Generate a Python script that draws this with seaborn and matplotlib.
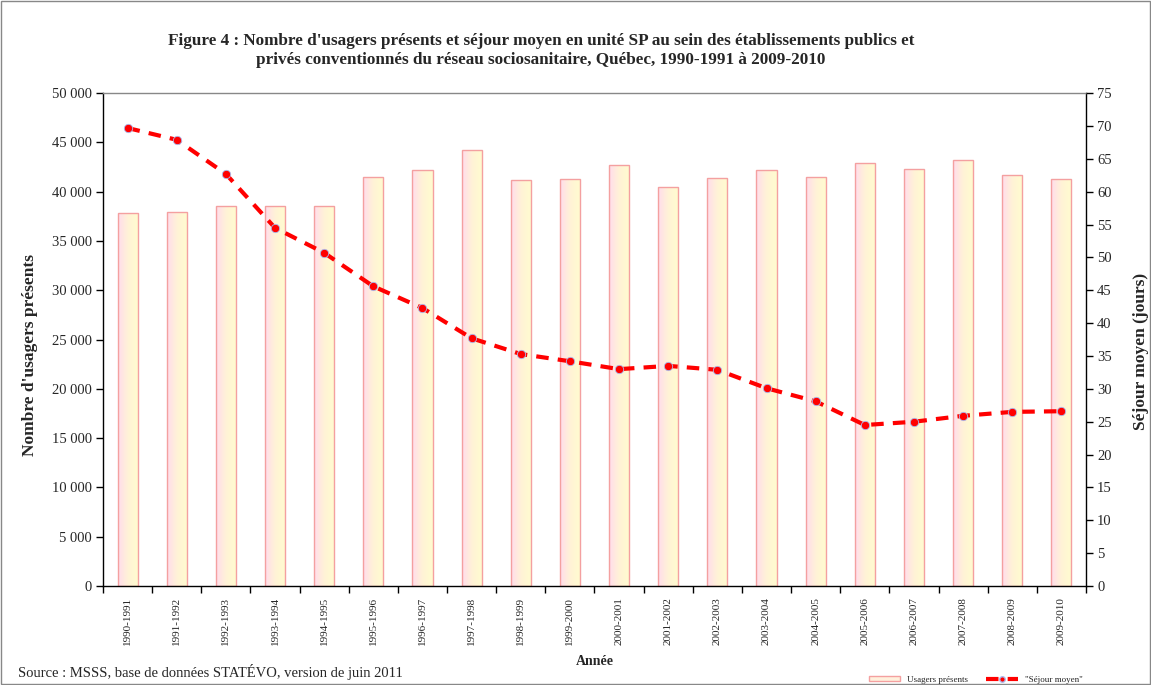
import matplotlib
matplotlib.use("Agg")
import matplotlib.pyplot as plt
import matplotlib.ticker as mticker
from matplotlib.colors import LinearSegmentedColormap
from matplotlib.patches import Rectangle
from matplotlib.lines import Line2D
import numpy as np
import pandas as pd
import seaborn as sns

annees = ["1990-1991", "1991-1992", "1992-1993", "1993-1994", "1994-1995",
          "1995-1996", "1996-1997", "1997-1998", "1998-1999", "1999-2000",
          "2000-2001", "2001-2002", "2002-2003", "2003-2004", "2004-2005",
          "2005-2006", "2006-2007", "2007-2008", "2008-2009", "2009-2010"]
usagers = [37800, 37900, 38600, 38600, 38600, 41500, 42200, 44200, 41200, 41300,
           42700, 40500, 41400, 42200, 41500, 42900, 42300, 43200, 41700, 41300]
sejour = [69.7, 67.9, 62.7, 54.5, 50.7, 45.6, 42.3, 37.7, 35.3, 34.2,
          33.0, 33.5, 32.9, 30.1, 28.1, 24.5, 25.0, 25.9, 26.5, 26.6]

df = pd.DataFrame({"Année": annees, "Usagers": usagers, "Sejour": sejour})
df["pos"] = np.arange(len(df))

sns.set_theme(style="white")
plt.rcParams["font.family"] = ["Liberation Serif", "DejaVu Serif"]

fig = plt.figure(figsize=(11.51, 6.85), dpi=100)
ax = fig.add_axes([0.0895, 0.1445, 0.854, 0.7195])

sns.barplot(data=df, x="Année", y="Usagers", ax=ax, width=0.41,
            color="#FFF6DA", edgecolor="#F4A0A0", linewidth=1.0, saturation=1)

cmap = LinearSegmentedColormap.from_list("g", ["#FFDCEC", "#FFF3D6", "#FFFCCF"])
grad = np.linspace(0, 1, 64).reshape(1, -1)
for p in list(ax.patches):
    x0, y0 = p.get_x(), p.get_y()
    w, h = p.get_width(), p.get_height()
    im = ax.imshow(grad, extent=[x0, x0 + w, y0, y0 + h], aspect="auto",
                   cmap=cmap, zorder=p.get_zorder() - 0.1, origin="lower")
    im.set_clip_path(p)
    p.set_facecolor("none")

ax.set_xlim(-0.5, len(df) - 0.5)
ax.set_ylim(0, 50000)
ax.yaxis.set_major_locator(mticker.MultipleLocator(5000))
ax.yaxis.set_major_formatter(mticker.FuncFormatter(lambda v, _: f"{int(v):,}".replace(",", " ")))
ax.tick_params(axis="y", which="major", direction="out", length=5, width=1,
               color="black", labelsize=10.5, pad=3, left=True)
ax.set_xticks(df["pos"])
ax.set_xticklabels(annees, rotation=90, fontsize=8)
ax.set_xticks(np.arange(-0.5, len(df), 1), minor=True)
ax.tick_params(axis="x", which="major", length=0, pad=8)
ax.tick_params(axis="x", which="minor", direction="out", length=5, width=1,
               color="black", bottom=True)
ax.set_xlabel("Année", fontsize=10, fontweight="bold", labelpad=7)
ax.set_ylabel("Nombre d'usagers présents", fontsize=12.5, fontweight="bold")
ax.yaxis.set_label_coords(-0.066, 0.469)
for s in ["left", "bottom", "right"]:
    ax.spines[s].set_color("black")
    ax.spines[s].set_linewidth(1)
ax.spines["top"].set_color("#888888")
ax.spines["top"].set_linewidth(1)

ax2 = ax.twinx()
sns.lineplot(data=df, x="pos", y="Sejour", ax=ax2, color="red", linewidth=3,
             linestyle=(0, (3, 2.2)), marker="o", markersize=6,
             markerfacecolor="red", markeredgecolor="#AABBEE", markeredgewidth=0.6)
ax2.set_ylim(0, 75)
ax2.set_xlim(-0.5, len(df) - 0.5)
ax2.yaxis.set_major_locator(mticker.MultipleLocator(5))
ax2.tick_params(axis="y", direction="out", length=5, width=1, color="black",
                labelsize=10.5, pad=3, right=True)
ax2.set_ylabel("Séjour moyen (jours)", fontsize=12.5, fontweight="bold")
ax2.yaxis.set_label_coords(1.048, 0.475)
ax2.set_xlabel("")
for s in ax2.spines.values():
    s.set_visible(False)

fig.text(0.47, 0.927,
         "Figure 4 : Nombre d'usagers présents et séjour moyen en unité SP au sein des établissements publics et\n"
         "privés conventionnés du réseau sociosanitaire, Québec, 1990-1991 à 2009-2010",
         ha="center", va="center", fontsize=12.3, fontweight="bold", linespacing=1.25)

fig.text(0.016, 0.008, "Source : MSSS, base de données STATÉVO, version de juin 2011",
         ha="left", va="bottom", fontsize=10.5)

handles = [Rectangle((0, 0), 1, 1, facecolor="#FFF0DC", edgecolor="#F4A0A0", linewidth=1),
           Line2D([0], [0], color="red", linewidth=3, linestyle=(0, (3, 2.2)),
                  marker="o", markersize=4, markerfacecolor="red", markeredgecolor="#AABBEE")]
fig.legend(handles, ["Usagers présents", "\"Séjour moyen\""], loc="lower right",
           bbox_to_anchor=(0.948, -0.01), ncol=2, frameon=False, fontsize=6.5,
           handlelength=3.5, handleheight=0.6, columnspacing=2)

fig.add_artist(Rectangle((0.001, 0.001), 0.998, 0.998, transform=fig.transFigure,
                         fill=False, edgecolor="#888888", linewidth=1))

fig.savefig("out.png", dpi=100)
